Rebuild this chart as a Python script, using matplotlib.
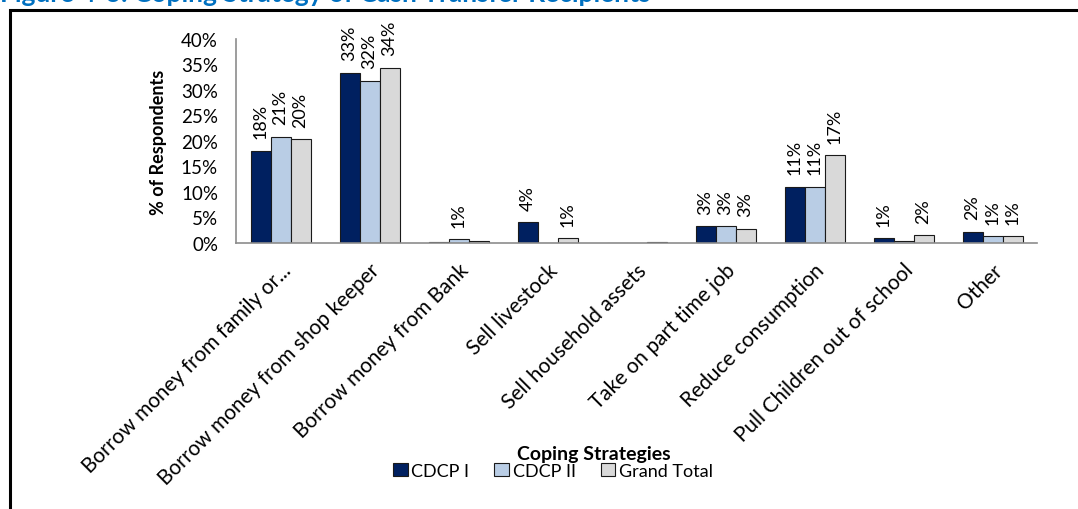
import matplotlib.pyplot as plt
import numpy as np
from matplotlib.patches import Rectangle

plt.rcParams['font.family'] = ['Lato', 'DejaVu Sans']

# Datos
estrategias = ["Borrow money from family or...", "Borrow money from shop keeper",
               "Borrow money from Bank", "Sell livestock", "Sell household assets",
               "Take on part time job", "Reduce consumption",
               "Pull Children out of school", "Other"]
cdcp1 = [18.1, 33.4, 0.2, 4.1, 0.05, 3.3, 11.0, 0.9, 2.2]
cdcp2 = [20.8, 31.8, 0.7, 0.0, 0.0, 3.3, 11.0, 0.3, 1.3]
total = [20.3, 34.4, 0.4, 0.9, 0.1, 2.8, 17.2, 1.5, 1.3]

series = [("CDCP I", cdcp1, "#002060"), ("CDCP II", cdcp2, "#B9CDE5"),
          ("Grand Total", total, "#D9D9D9")]

fig = plt.figure(figsize=(10.78, 5.10), dpi=100)
ax = fig.add_axes([0.219, 0.5216, 0.743, 0.40])

x = np.arange(len(estrategias))
w = 0.225
for k, (nombre, vals, color) in enumerate(series):
    pos = x + (k - 1) * w
    ax.bar(pos, [v / 100 for v in vals], w, color=color, edgecolor="#1a1a1a",
           linewidth=0.8, label=nombre)
    for p, v in zip(pos, vals):
        if round(v) >= 1:
            ax.annotate(f"{round(v)}%", (p, v / 100), xytext=(0, 9),
                        textcoords="offset points", rotation=90,
                        ha="center", va="bottom", fontsize=13)

ax.set_xlim(-0.5, len(estrategias) - 0.5)
ax.set_ylim(0, 0.4)
ax.set_yticks(np.arange(0, 0.41, 0.05))
ax.set_yticklabels([f"{int(round(t * 100))}%" for t in np.arange(0, 0.41, 0.05)],
                   fontsize=13.5)
ax.set_xticks(x)
ax.set_xticklabels(estrategias, rotation=45, ha="right", rotation_mode="anchor",
                   fontsize=15)
ax.tick_params(axis="both", length=0)
ax.tick_params(axis="y", pad=13)
ax.tick_params(axis="x", pad=12)
for s in ["top", "right"]:
    ax.spines[s].set_visible(False)
for s in ["left", "bottom"]:
    ax.spines[s].set_color("#8c8c8c")
    ax.spines[s].set_linewidth(1.2)

ax.set_ylabel("% of Respondents", fontsize=13, fontweight="bold", labelpad=10)
fig.text(0.551, 0.108, "Coping Strategies", fontsize=14, fontweight="bold",
         ha="center", va="center")

fig.legend(loc="center", bbox_to_anchor=(0.513, 0.075), ncol=3, frameon=False,
           fontsize=13, handlelength=0.8, handleheight=0.8, handletextpad=0.2,
           columnspacing=1.4, borderaxespad=0)

# Marco y título recortado
fig.patches.append(Rectangle((10 / 1078, -0.05), 1.2, 1 - 11 / 510 + 0.05,
                             transform=fig.transFigure, fill=False,
                             edgecolor="black", linewidth=2.2))
fig.text(0.0, 1 - 2 / 510, "Figure 4-3: Coping Strategy of Cash Transfer Recipients",
         fontsize=19, fontweight="bold", color="#0070C0", ha="left", va="baseline")

fig.savefig("out.png", dpi=100)
